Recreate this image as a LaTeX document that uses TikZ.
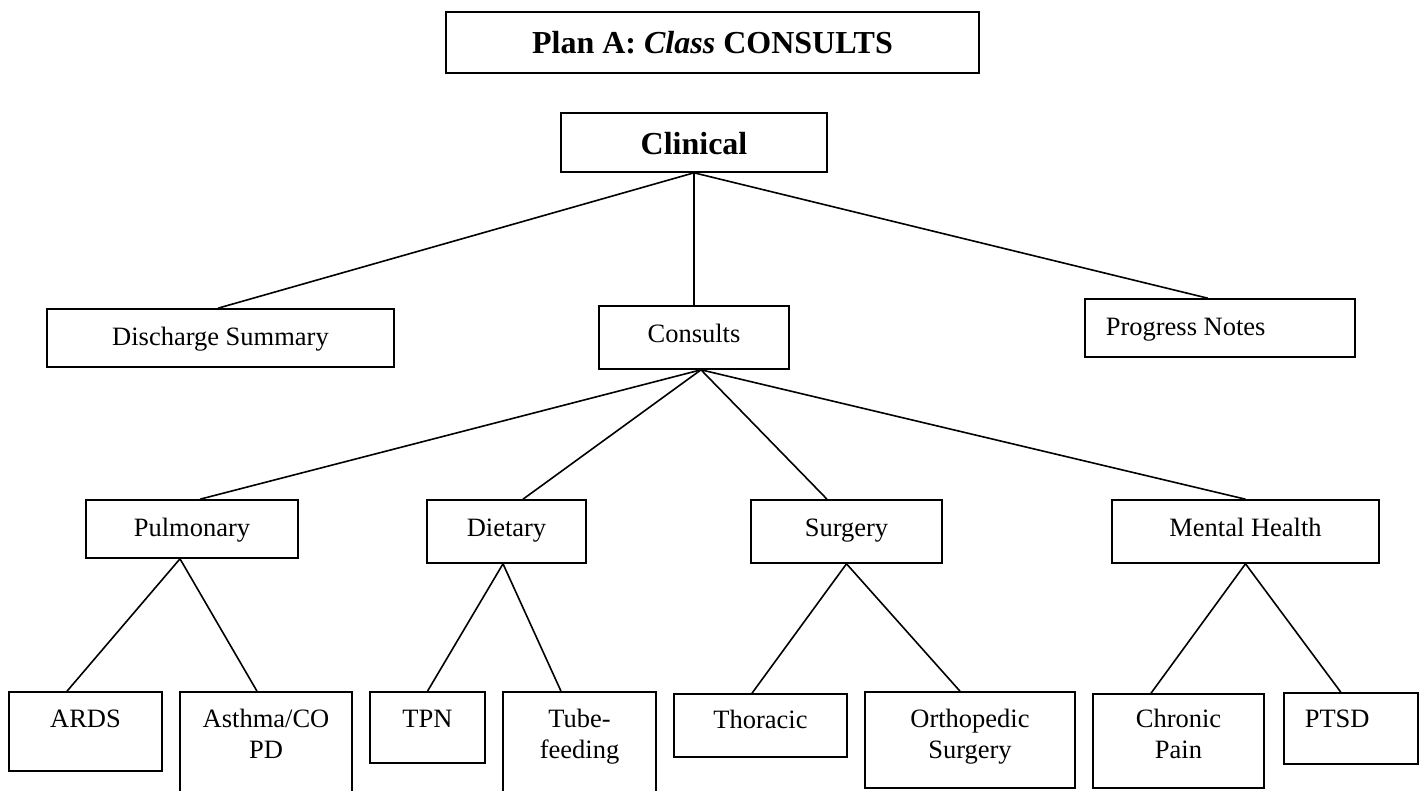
\documentclass[tikz,border=0pt]{standalone}
\usepackage{fontspec}
\setmainfont{Liberation Serif}
\tikzset{
   box/.style={draw, line width=1.6pt, inner sep=0pt, anchor=base, align=center,
      font=\fontsize{26.5}{31}\selectfont},
   leftbox/.style={box, anchor=base west, align=flush left, inner xsep=21pt},
   headbox/.style={box, font=\fontsize{32}{36}\selectfont\bfseries},
   link/.style={line width=1.6pt},
}
\begin{document}
\begin{tikzpicture}[x=1pt, y=-1pt]
   \useasboundingbox (0,0) rectangle (1424,790);
   \clip (0,0) rectangle (1424,790);

   % Title
   \node[headbox, minimum width=533pt, text height=41pt, text depth=20pt] (title) at (712.5,53) {Plan A: \textit{Class} CONSULTS};

   % Top level
   \node[headbox, minimum width=266pt, text height=41pt, text depth=18pt] (clinical) at (694,154) {Clinical};
   \node[box, minimum width=347pt, text height=36pt, text depth=22pt] (discharge) at (220.5,345) {Discharge Summary};
   \node[box, minimum width=190pt, text height=36pt, text depth=27pt] (consults) at (694,342) {Consults};
   \node[leftbox, text width=228pt, text height=36pt, text depth=22pt] (progress) at (1084,335) {Progress Notes};
   \foreach \c/\dx in {discharge/-2.5, consults/0, progress/-12} {
      \draw[link] (clinical.south) to ([xshift=\dx pt]\c.north);
   }

   % Kinds of consults
   \node[box, minimum width=212pt, text height=36pt, text depth=22pt] (pulmonary) at (192,536) {Pulmonary};
   \node[box, minimum width=159pt, text height=36pt, text depth=27pt] (dietary) at (506.5,536) {Dietary};
   \node[box, minimum width=191pt, text height=36pt, text depth=27pt] (surgery) at (846.5,536) {Surgery};
   \node[box, minimum width=267pt, text height=36pt, text depth=27pt] (mental) at (1245.5,536) {Mental Health};
   \foreach \c/\dx in {pulmonary/8, dietary/16.5, surgery/-19.5, mental/0} {
      \draw[link] ([xshift=7pt]consults.south) to ([xshift=\dx pt]\c.north);
   }

   % Leaves (two-line boxes sit on the baseline of their last line)
   \node[box, minimum width=153pt, text height=35pt, text depth=44pt] (ards) at (85.5,727) {ARDS};
   \node[box, minimum width=172pt, text height=66pt, text depth=42pt] (asthma) at (266,758) {Asthma/CO\\PD};
   \node[box, minimum width=115pt, text height=35pt, text depth=36pt] (tpn) at (427.5,727) {TPN};
   \node[box, minimum width=153pt, text height=66pt, text depth=42pt] (tube) at (579.5,758) {Tube-\\feeding};
   \node[box, minimum width=173pt, text height=34pt, text depth=29pt] (thoracic) at (760.5,728) {Thoracic};
   \node[box, minimum width=210pt, text height=66pt, text depth=30pt] (ortho) at (970,758) {Orthopedic\\Surgery};
   \node[box, minimum width=171pt, text height=64pt, text depth=30pt] (chronic) at (1178.5,758) {Chronic\\Pain};
   \node[leftbox, text width=92pt, text height=34pt, text depth=37pt] (ptsd) at (1283,727) {PTSD};
   \foreach \p/\px/\c/\cx in {pulmonary/-12/ards/-18.5, pulmonary/-12/asthma/-9,
         dietary/-3.5/tpn/0, dietary/-3.5/tube/-18.5,
         surgery/0/thoracic/-8.5, surgery/0/ortho/-10,
         mental/0/chronic/-27.5, mental/0/ptsd/-10} {
      \draw[link] ([xshift=\px pt]\p.south) to ([xshift=\cx pt]\c.north);
   }
\end{tikzpicture}
\end{document}
